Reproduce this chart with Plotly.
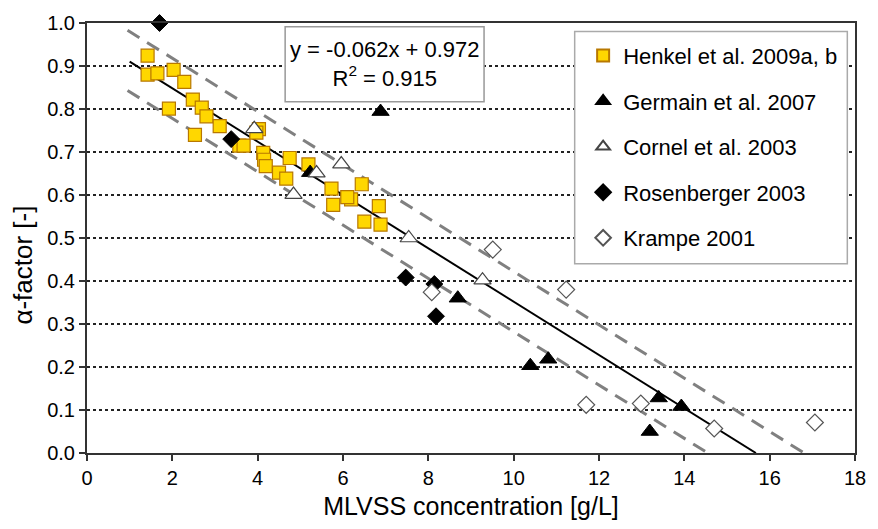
import plotly.graph_objects as go

# ---- data ----
henkel_x = [1.42, 1.42, 1.65, 2.03, 2.28, 1.92, 2.48, 2.69, 2.80, 2.53, 3.11, 3.57, 3.67,
            4.03, 3.97, 4.13, 4.15, 4.19, 4.50, 4.67, 4.75, 5.19, 5.73, 5.77, 6.44, 6.19,
            6.10, 6.50, 6.84, 6.88]
henkel_y = [0.924, 0.880, 0.883, 0.891, 0.863, 0.801, 0.822, 0.803, 0.783, 0.740, 0.760,
            0.715, 0.715, 0.753, 0.745, 0.698, 0.682, 0.667, 0.652, 0.638, 0.686, 0.671,
            0.615, 0.577, 0.625, 0.590, 0.595, 0.538, 0.574, 0.531]

germain_x = [5.23, 6.88, 8.69, 10.39, 10.81, 13.40, 13.93, 13.19]
germain_y = [0.652, 0.794, 0.360, 0.203, 0.218, 0.128, 0.108, 0.050]

cornel_x = [3.92, 5.38, 5.96, 4.84, 7.54, 9.27]
cornel_y = [0.754, 0.651, 0.672, 0.601, 0.500, 0.402]

rosen_x = [1.70, 3.38, 7.47, 8.14, 8.18]
rosen_y = [1.000, 0.730, 0.408, 0.393, 0.318]

krampe_x = [9.51, 11.23, 8.08, 11.70, 12.98, 14.70, 17.06]
krampe_y = [0.473, 0.380, 0.374, 0.112, 0.115, 0.057, 0.071]

slope = -0.062
intercept = 0.972
r2 = 0.915
band = 0.07
fit_x = [1.0, -intercept / slope]
upper_x = [0.95, -(intercept + band) / slope]
lower_x = [0.95, -(intercept - band) / slope]

x_ticks = [0, 2, 4, 6, 8, 10, 12, 14, 16, 18]
y_ticks = [0.0, 0.1, 0.2, 0.3, 0.4, 0.5, 0.6, 0.7, 0.8, 0.9, 1.0]

x_title = "MLVSS concentration [g/L]"
y_title = "α-factor [-]"

FONT = "Liberation Sans, Arial, sans-serif"

fig = go.Figure()

# regression and band lines
fig.add_trace(go.Scatter(x=upper_x, y=[slope * v + intercept + band for v in upper_x],
                         mode="lines", line=dict(color="#808080", width=3, dash="14px,9px"),
                         showlegend=False, hoverinfo="skip"))
fig.add_trace(go.Scatter(x=lower_x, y=[slope * v + intercept - band for v in lower_x],
                         mode="lines", line=dict(color="#808080", width=3, dash="14px,9px"),
                         showlegend=False, hoverinfo="skip"))
fig.add_trace(go.Scatter(x=fit_x, y=[slope * v + intercept for v in fit_x],
                         mode="lines", line=dict(color="black", width=2),
                         showlegend=False, hoverinfo="skip"))

fig.add_trace(go.Scatter(x=henkel_x, y=henkel_y, mode="markers", name="Henkel et al. 2009a, b",
                         legendgroup="a",
                         marker=dict(symbol="square", size=13, color="#FFD700",
                                     line=dict(color="#B87800", width=1.2))))
fig.add_trace(go.Scatter(x=germain_x, y=germain_y, mode="markers", name="Germain et al. 2007",
                         legendgroup="b",
                         marker=dict(symbol="triangle-up", size=15, color="black",
                                     line=dict(color="black", width=1))))
fig.add_trace(go.Scatter(x=cornel_x, y=cornel_y, mode="markers", name="Cornel et al. 2003",
                         legendgroup="c",
                         marker=dict(symbol="triangle-up", size=15, color="white",
                                     line=dict(color="#444444", width=1.2))))
fig.add_trace(go.Scatter(x=rosen_x, y=rosen_y, mode="markers", name="Rosenberger 2003",
                         legendgroup="d", cliponaxis=False,
                         marker=dict(symbol="diamond", size=13, color="black",
                                     line=dict(color="black", width=1))))
fig.add_trace(go.Scatter(x=krampe_x, y=krampe_y, mode="markers", name="Krampe 2001",
                         legendgroup="e",
                         marker=dict(symbol="diamond", size=13, color="white",
                                     line=dict(color="#555555", width=1.2))))

# equation box and legend box
fig.add_shape(type="rect", xref="paper", yref="paper", x0=0.258, x1=0.517, y0=0.817, y1=0.991,
              line=dict(color="#999999", width=1.5), fillcolor="white", layer="above")
fig.add_shape(type="rect", xref="paper", yref="paper", x0=0.635, x1=0.990, y0=0.440, y1=0.980,
              line=dict(color="#AAAAAA", width=1.5), fillcolor="white", layer="above")

fig.add_annotation(xref="paper", yref="paper", x=0.388, y=0.904, xanchor="center",
                   yanchor="middle", showarrow=False,
                   text=f"y = {slope}x + {intercept}<br>R<sup>2</sup> = {r2}",
                   font=dict(family=FONT, size=22, color="black"), align="center")

# y-axis title (placed like the reference, slightly below plot centre)
fig.add_annotation(xref="paper", yref="paper", x=-0.0834, y=0.438, xanchor="center",
                   yanchor="middle", showarrow=False, textangle=-90, text=y_title,
                   font=dict(family=FONT, size=26, color="black"))

fig.update_layout(
    width=878, height=529,
    margin=dict(l=87, r=12, t=18, b=76),
    plot_bgcolor="white", paper_bgcolor="white",
    font=dict(family=FONT, color="black"),
    legend=dict(x=0.646, y=0.973, xanchor="left", yanchor="top",
                bgcolor="rgba(0,0,0,0)", borderwidth=0,
                traceorder="grouped", tracegroupgap=14,
                font=dict(family=FONT, size=22, color="black"),
                itemsizing="constant"),
    xaxis=dict(range=[0, 18], tickvals=x_ticks, showgrid=False, zeroline=False,
               showline=True, linecolor="#333333", linewidth=2, mirror=True,
               ticks="outside", ticklen=6, tickwidth=1.5, tickcolor="#333333",
               tickfont=dict(family=FONT, size=20),
               title=dict(text=x_title, font=dict(family=FONT, size=25),
                          standoff=9)),
    yaxis=dict(range=[0, 1.0], tickvals=y_ticks, tickformat=".1f",
               showgrid=True, gridcolor="#222222", gridwidth=1.5, griddash="dot",
               zeroline=False, showline=True, linecolor="#333333", linewidth=2, mirror=True,
               ticks="outside", ticklen=6, tickwidth=1.5, tickcolor="#333333",
               tickfont=dict(family=FONT, size=20)),
)

fig.write_html("out.html")
